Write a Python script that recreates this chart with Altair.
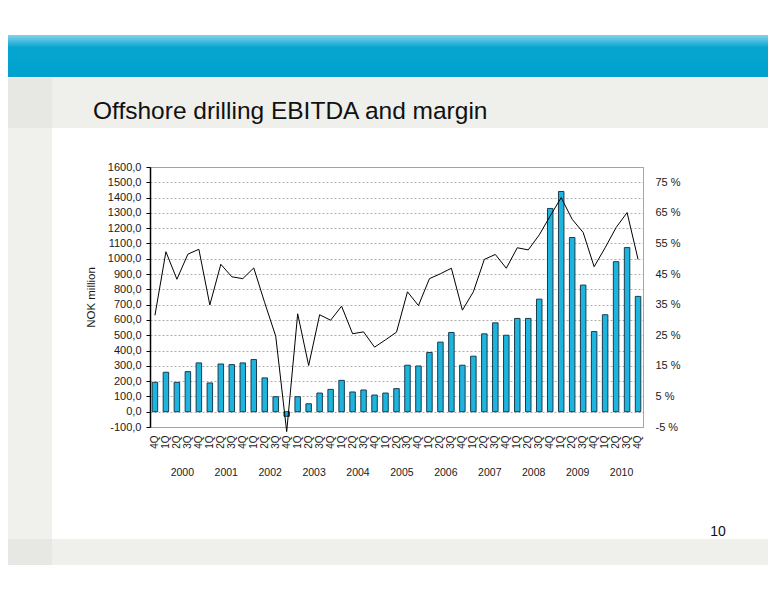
"""
Offshore drilling EBITDA (bars, NOK million) and EBITDA margin (line, %)
"""
import pandas as pd
import altair as alt

# Quarter keys: first bar is 4Q 1999, then 2000-2010
years = ['2000', '2001', '2002', '2003', '2004', '2005', '2006', '2007', '2008', '2009', '2010']
quarters = ['1Q', '2Q', '3Q', '4Q']
periods = ['4Q 1999'] + [f'{q} {y}' for y in years for q in quarters]

# EBITDA, NOK million
ebitda = [192, 258, 192, 262, 319, 188, 312, 308, 319, 341,
          221, 98, -30, 98, 52, 122, 146, 205, 129, 142,
          109, 122, 151, 304, 299, 387, 455, 518, 304, 363,
          509, 581, 500, 610, 610, 736, 1329, 1440, 1139, 828,
          524, 634, 981, 1073, 754]

# EBITDA margin, %
margin = [31.5, 52.3, 43.3, 51.5, 53.1, 34.9, 48.2, 44.1, 43.5, 47.0,
          35.6, 24.7, -6.5, 32.0, 15.1, 31.7, 29.9, 34.5, 25.5, 26.1,
          21.1, 23.5, 26.0, 39.2, 34.7, 43.5, 45.1, 46.9, 33.2, 39.2,
          49.8, 51.4, 46.9, 53.6, 52.9, 57.8, 64.0, 70.0, 62.9, 58.6,
          47.4, 53.6, 60.2, 65.1, 49.8]

left_ticks = list(range(-100, 1700, 100))
right_ticks = [-5, 5, 15, 25, 35, 45, 55, 65, 75]

df = pd.DataFrame({'period': periods, 'ebitda': ebitda, 'margin': margin})
year_df = pd.DataFrame({'year': years, 'anchor': [f'2Q {y}' for y in years]})
one = pd.DataFrame({'k': [0]})

FONT = 'Liberation Sans'
TEXT = '#1a1a1a'

x_scale = alt.Scale(domain=periods, paddingInner=0.5, paddingOuter=0.2)
x_axis = alt.Axis(labelExpr="split(datum.label, ' ')[0]", labelAngle=270,
                  labelFontSize=10, labelPadding=8, domain=False, ticks=False,
                  grid=False, labelColor=TEXT, labelFont=FONT, labelOverlap=False)

# --- slide decoration -------------------------------------------------------
blue_band = alt.Chart(one).mark_rect(
    fill=alt.Gradient(
        gradient='linear', x1=0, y1=0, x2=0, y2=1,
        stops=[alt.GradientStop(offset=0, color='#86d3ea'),
               alt.GradientStop(offset=0.3, color='#05a5d0'),
               alt.GradientStop(offset=1, color='#00a2cd')]
    )
).encode(x=alt.value(-145), x2=alt.value(621), y=alt.value(-132), y2=alt.value(-90))

grey_band = alt.Chart(one).mark_rect(fill='#efefeb').encode(
    x=alt.value(-145), x2=alt.value(621), y=alt.value(-89), y2=alt.value(-39))
left_col = alt.Chart(one).mark_rect(fill='#f0f0ec').encode(
    x=alt.value(-145), x2=alt.value(-98), y=alt.value(-39), y2=alt.value(372))
bottom_band = alt.Chart(one).mark_rect(fill='#efefeb').encode(
    x=alt.value(-145), x2=alt.value(621), y=alt.value(372), y2=alt.value(398))
left_dark_top = alt.Chart(one).mark_rect(fill='#e7e7e3').encode(
    x=alt.value(-145), x2=alt.value(-98), y=alt.value(-89), y2=alt.value(-39))
left_dark_bottom = alt.Chart(one).mark_rect(fill='#e7e7e3').encode(
    x=alt.value(-145), x2=alt.value(-98), y=alt.value(372), y2=alt.value(398))

title = alt.Chart(one).mark_text(
    text='Offshore drilling EBITDA and margin', font=FONT, fontSize=24.5,
    align='left', baseline='alphabetic', color='#111111'
).encode(x=alt.value(-57), y=alt.value(-48))

page_no = alt.Chart(one).mark_text(
    text='10', font=FONT, fontSize=14, align='center', baseline='alphabetic', color='#111111'
).encode(x=alt.value(568), y=alt.value(369))

# --- data layers -----------------------------------------------------------
bars = alt.Chart(df).mark_bar(fill='#1db5de', stroke='#1a3c4e', strokeWidth=1).encode(
    x=alt.X('period:N', scale=x_scale, sort=periods, title=None, axis=x_axis),
    y=alt.Y('ebitda:Q', scale=alt.Scale(domain=[-100, 1600], nice=False, zero=False),
            title='NOK million',
            axis=alt.Axis(values=left_ticks,
                          labelExpr="replace(replace(format(datum.value, '.1f'), '.', ','), '\u2212', '-')",
                          grid=True, gridDash=[2, 2], gridColor='#9a9a9a', gridWidth=0.8,
                          domainColor='#000000', domainWidth=1.5, tickColor='#000000',
                          tickSize=4, labelPadding=5, labelFontSize=11, labelColor=TEXT,
                          labelFont=FONT, titleFont=FONT, titleFontSize=11.5,
                          titleFontWeight='normal', titleColor=TEXT, titlePadding=11))
)

line = alt.Chart(df).mark_line(color='#000000', strokeWidth=1).encode(
    x=alt.X('period:N', scale=x_scale, sort=periods, title=None, axis=x_axis),
    y=alt.Y('margin:Q', scale=alt.Scale(domain=[-5, 80], nice=False, zero=False),
            title=None,
            axis=alt.Axis(orient='right', values=right_ticks, labelExpr="datum.value + ' %'",
                          grid=False, domain=False, ticks=False, labelPadding=12,
                          labelFontSize=11, labelColor=TEXT, labelFont=FONT))
)

# year labels sit between the 2Q and 3Q bars of each year
year_labels = alt.Chart(year_df).mark_text(
    font=FONT, fontSize=10.5, color=TEXT, baseline='middle', align='center', dx=2.7
).encode(
    x=alt.X('anchor:N', scale=x_scale, bandPosition=1, title=None, axis=x_axis),
    y=alt.value(306),
    text='year:N'
)

chart = alt.layer(
    blue_band, grey_band, left_col, bottom_band, left_dark_top, left_dark_bottom,
    title, page_no, bars, line, year_labels
).resolve_scale(
    y='independent'
).properties(
    width=493,
    height=260,
    autosize=alt.AutoSizeParams(type='none'),
    padding={'left': 142, 'top': 159, 'right': 125, 'bottom': 165}
).configure_view(
    stroke='#a6a6a6',
    strokeWidth=1
)

chart.save('out.html', embed_options={'renderer': 'svg', 'actions': False})
